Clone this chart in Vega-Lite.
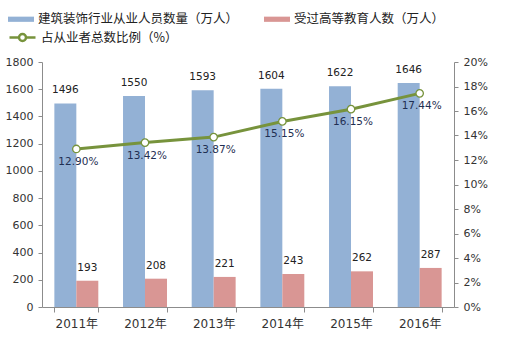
{
  "$schema": "https://vega.github.io/schema/vega-lite/v6.json",
  "width": 412,
  "height": 245,
  "autosize": {"type": "none"},
  "padding": {"left": 42, "top": 62, "right": 51, "bottom": 44},
  "background": "white",
  "config": {
    "view": {"stroke": null},
    "font": "DejaVu Sans, Noto Sans CJK SC",
    "axis": {
      "grid": false,
      "title": null,
      "domainColor": "#8c8c8c",
      "tickColor": "#8c8c8c",
      "labelColor": "#333333",
      "labelFont": "DejaVu Sans, Noto Sans CJK SC",
      "labelFontSize": 11,
      "tickSize": 4,
      "labelPadding": 5
    }
  },
  "datasets": {
    "bars": [
      {"year": "2011年", "series": "建筑装饰行业从业人员数量（万人）", "value": 1496},
      {"year": "2011年", "series": "受过高等教育人数（万人）", "value": 193},
      {"year": "2012年", "series": "建筑装饰行业从业人员数量（万人）", "value": 1550},
      {"year": "2012年", "series": "受过高等教育人数（万人）", "value": 208},
      {"year": "2013年", "series": "建筑装饰行业从业人员数量（万人）", "value": 1593},
      {"year": "2013年", "series": "受过高等教育人数（万人）", "value": 221},
      {"year": "2014年", "series": "建筑装饰行业从业人员数量（万人）", "value": 1604},
      {"year": "2014年", "series": "受过高等教育人数（万人）", "value": 243},
      {"year": "2015年", "series": "建筑装饰行业从业人员数量（万人）", "value": 1622},
      {"year": "2015年", "series": "受过高等教育人数（万人）", "value": 262},
      {"year": "2016年", "series": "建筑装饰行业从业人员数量（万人）", "value": 1646},
      {"year": "2016年", "series": "受过高等教育人数（万人）", "value": 287}
    ],
    "ratio": [
      {"year": "2011年", "series": "占从业者总数比例（%）", "pct": 0.129},
      {"year": "2012年", "series": "占从业者总数比例（%）", "pct": 0.1342},
      {"year": "2013年", "series": "占从业者总数比例（%）", "pct": 0.1387},
      {"year": "2014年", "series": "占从业者总数比例（%）", "pct": 0.1515},
      {"year": "2015年", "series": "占从业者总数比例（%）", "pct": 0.1615},
      {"year": "2016年", "series": "占从业者总数比例（%）", "pct": 0.1744}
    ]
  },
  "encoding": {
    "x": {
      "field": "year",
      "type": "nominal",
      "sort": null,
      "scale": {"paddingInner": 0.36, "paddingOuter": 0.18},
      "axis": {"labelAngle": 0, "tickBand": "extent", "tickSize": 5, "labelPadding": 6, "labelFontSize": 12}
    }
  },
  "layer": [
    {
      "data": {"name": "bars"},
      "encoding": {
        "y": {
          "field": "value",
          "type": "quantitative",
          "scale": {"domain": [0, 1800]},
          "axis": {"values": [0, 200, 400, 600, 800, 1000, 1200, 1400, 1600, 1800], "orient": "left", "format": "d"}
        },
        "xOffset": {
          "field": "series",
          "type": "nominal",
          "sort": ["建筑装饰行业从业人员数量（万人）", "受过高等教育人数（万人）"],
          "scale": {"paddingInner": 0.0}
        }
      },
      "layer": [
        {
          "mark": {"type": "bar"},
          "encoding": {
            "fill": {
              "field": "series",
              "type": "nominal",
              "scale": {
                "domain": ["建筑装饰行业从业人员数量（万人）", "受过高等教育人数（万人）"],
                "range": ["#93B1D5", "#D99694"]
              },
              "legend": {
                "title": null,
                "orient": "none",
                "legendX": -34,
                "legendY": -56,
                "direction": "horizontal",
                "columns": 2,
                "columnPadding": 25,
                "padding": 0,
                "symbolType": "M-1,-0.2H1V0.2H-1Z",
                "symbolSize": 676,
                "symbolStrokeWidth": 0,
                "labelOffset": 4,
                "labelFont": "Noto Sans CJK SC",
                "labelFontSize": 12.5,
                "labelColor": "#222222",
                "labelLimit": 400
              }
            }
          }
        },
        {
          "mark": {"type": "text", "baseline": "middle", "dy": -13, "fontSize": 10.5, "color": "#222222"},
          "encoding": {"text": {"field": "value", "type": "quantitative", "format": "d"}}
        }
      ]
    },
    {
      "data": {"name": "ratio"},
      "encoding": {
        "y": {
          "field": "pct",
          "type": "quantitative",
          "scale": {"domain": [0, 0.2]},
          "axis": {"orient": "right", "format": ".0%", "values": [0, 0.02, 0.04, 0.06, 0.08, 0.1, 0.12, 0.14, 0.16, 0.18, 0.2]}
        }
      },
      "layer": [
        {
          "mark": {"type": "line", "strokeWidth": 3},
          "encoding": {
            "stroke": {
              "field": "series",
              "type": "nominal",
              "scale": {"domain": ["占从业者总数比例（%）"], "range": ["#77933C"]},
              "legend": {
                "title": null,
                "orient": "none",
                "legendX": -34,
                "legendY": -39,
                "padding": 0,
                "symbolType": "M-1,0H-0.27M0.27,0H1M-0.27,0A0.27,0.27,0,1,1,0.27,0A0.27,0.27,0,1,1,-0.27,0Z",
                "symbolSize": 676,
                "symbolStrokeWidth": 2.5,
                "symbolFillColor": "white",
                "labelOffset": 4,
                "labelFont": "Noto Sans CJK SC",
                "labelFontSize": 12.5,
                "labelColor": "#222222",
                "labelLimit": 400
              }
            }
          }
        },
        {
          "mark": {"type": "point", "filled": true, "fill": "white", "stroke": "#77933C", "strokeWidth": 1.3, "size": 55, "opacity": 1},
          "encoding": {}
        },
        {
          "mark": {"type": "text", "baseline": "middle", "dy": 13, "dx": 2, "fontSize": 10.5, "color": "#1F2F52"},
          "encoding": {"text": {"field": "pct", "type": "quantitative", "format": ".2%"}}
        }
      ]
    }
  ],
  "resolve": {"scale": {"y": "independent"}}
}
